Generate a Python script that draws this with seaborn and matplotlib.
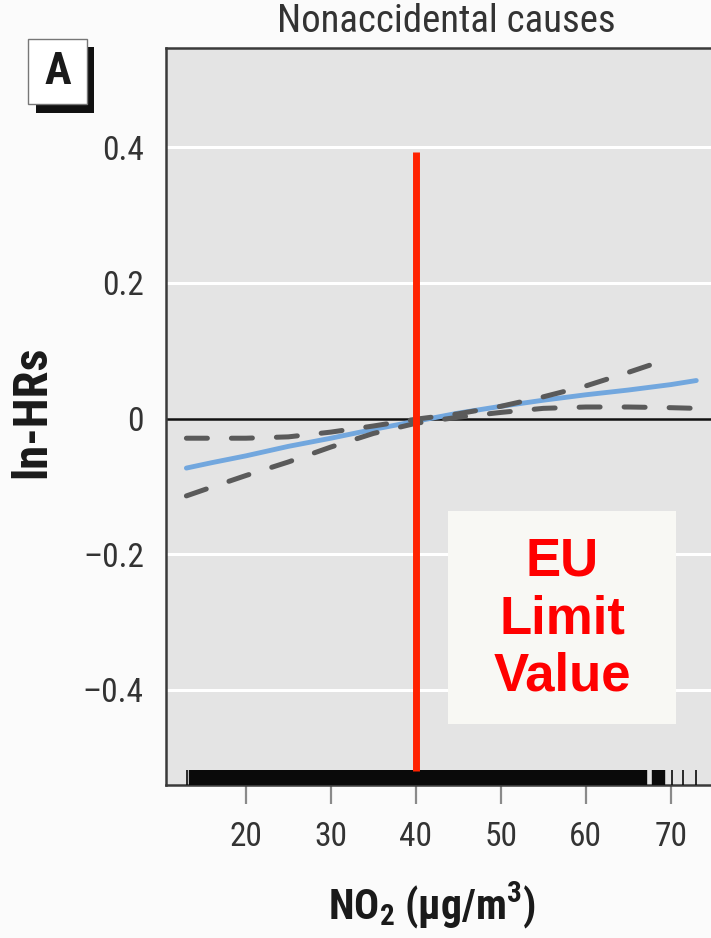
import matplotlib
matplotlib.use("Agg")
import matplotlib.pyplot as plt
import seaborn as sns
import pandas as pd
from matplotlib.patches import Rectangle
from matplotlib import font_manager as fm

# ---------------- data ----------------
no2_x = [13, 16, 20, 25, 30, 35, 40, 45, 50, 55, 60, 65, 70, 73]
ln_hr = [-0.073, -0.065, -0.055, -0.041, -0.029, -0.016, -0.004, 0.008, 0.018, 0.027, 0.035, 0.042, 0.050, 0.056]

upper_x = [13, 16, 20, 25, 30, 35, 40, 45, 50, 55, 60, 65, 70]
upper_ci = [-0.029, -0.029, -0.029, -0.027, -0.020, -0.011, -0.001, 0.007, 0.018, 0.032, 0.048, 0.068, 0.089]

lower_x = [13, 16, 20, 25, 30, 35, 40, 45, 50, 55, 60, 65, 70, 73]
lower_ci = [-0.114, -0.101, -0.084, -0.064, -0.042, -0.022, -0.007, 0.002, 0.009, 0.015, 0.017, 0.017, 0.016, 0.015]

rug_dense = [13.7, 14.0, 14.5, 15.0, 15.5, 16.0, 16.5, 17.0, 17.5, 18.0, 18.5, 19.0, 19.5,
             20.0, 20.5, 21.0, 21.5, 22.0, 22.5, 23.0, 23.5, 24.0, 24.5, 25.0, 25.5,
             26.0, 26.5, 27.0, 27.5, 28.0, 28.5, 29.0, 29.5, 30.0, 30.5, 31.0, 31.5,
             32.0, 32.5, 33.0, 33.5, 34.0, 34.5, 35.0, 35.5, 36.0, 36.5, 37.0, 37.5,
             38.0, 38.5, 39.0, 39.5, 40.0, 40.5, 41.0, 41.5, 42.0, 42.5, 43.0, 43.5,
             44.0, 44.5, 45.0, 45.5, 46.0, 46.5, 47.0, 47.5, 48.0, 48.5, 49.0, 49.5,
             50.0, 50.5, 51.0, 51.5, 52.0, 52.5, 53.0, 53.5, 54.0, 54.5, 55.0, 55.5,
             56.0, 56.5, 57.0, 57.5, 58.0, 58.5, 59.0, 59.5, 60.0, 60.5, 61.0, 61.5,
             62.0, 62.5, 63.0, 63.5, 64.0, 64.5, 65.0, 65.5, 66.0, 66.5, 66.8,
             68.2, 68.6, 69.0]
rug_sparse = [13.1, 70.1, 71.4, 73.0]

eu_limit = 40
eu_line_span = [-0.52, 0.393]

x_ticks = [20, 30, 40, 50, 60, 70]
y_ticks = [-0.4, -0.2, 0, 0.2, 0.4]
y_ticklabels = ["\u20130.4", "\u20130.2", "0", "0.2", "0.4"]

title = "Nonaccidental causes"
ylabel = "ln-HRs"
xlabel = "NO$_2$ (\u00b5g/m$^3$)"
panel = "A"
box_text = "EU\nLimit\nValue"

# ---------------- fonts: look for a condensed family ----------------
names = {f.name for f in fm.fontManager.ttflist}
narrow = None
for cand in ["Liberation Sans Narrow", "Roboto Condensed", "Open Sans Condensed",
             "DejaVu Sans Condensed", "Noto Sans Condensed", "Arial Narrow"]:
    if cand in names:
        narrow = cand
        break
stretch = "normal"
if narrow is None:
    cond = [f for f in fm.fontManager.ttflist
            if str(f.stretch) in ("condensed", "semi-condensed", "extra-condensed")]
    if cond:
        narrow = cond[0].name
        stretch = str(cond[0].stretch)
if narrow is None:
    narrow = "Liberation Sans"
FAM = [narrow, "DejaVu Sans"]

# ---------------- style ----------------
sns.set_style("white")
plt.rcParams["font.family"] = FAM
plt.rcParams["font.stretch"] = stretch
plt.rcParams["mathtext.fontset"] = "custom"
plt.rcParams["mathtext.rm"] = narrow + ":bold"
plt.rcParams["mathtext.it"] = narrow + ":bold"
plt.rcParams["mathtext.bf"] = narrow + ":bold"

W, H = 711, 938
fig = plt.figure(figsize=(W / 100, H / 100), dpi=100)
fig.patch.set_facecolor("#fbfbfb")

ax = fig.add_axes([166 / W, 1 - 785 / H, (726 - 166) / W, (785 - 48) / H])
ax.set_facecolor("#e4e4e4")
ax.set_xlim(10.6, 76.5)
ax.set_ylim(-0.540, 0.546)

for y in y_ticks:
    if y != 0:
        ax.axhline(y, color="white", lw=2.2, zorder=0.5)
ax.axhline(0, color="#111111", lw=1.8, zorder=1)

df_main = pd.DataFrame({"x": no2_x, "y": ln_hr})
df_up = pd.DataFrame({"x": upper_x, "y": upper_ci})
df_lo = pd.DataFrame({"x": lower_x, "y": lower_ci})

sns.lineplot(data=df_main, x="x", y="y", ax=ax, color="#72a7de", lw=3.5,
             solid_capstyle="round", zorder=3)
for d in (df_up, df_lo):
    sns.lineplot(data=d, x="x", y="y", ax=ax, color="#5a5a5a", lw=3.6,
                 dashes=False, zorder=4)
    ax.lines[-1].set_dashes([4.2, 4.8])
    ax.lines[-1].set_dash_capstyle("round")

sns.rugplot(x=rug_dense, ax=ax, height=0.0205, color="#0a0a0a", linewidth=4.6, zorder=5)
sns.rugplot(x=rug_sparse, ax=ax, height=0.0205, color="#0a0a0a", linewidth=1.2, zorder=5)

ax.vlines(eu_limit, eu_line_span[0], eu_line_span[1], color="#ff2200", lw=5.0, zorder=6)

# ticks
ax.set_xticks(x_ticks)
ax.set_xticklabels([str(t) for t in x_ticks])
ax.set_yticks(y_ticks)
ax.set_yticklabels(y_ticklabels)
ax.tick_params(axis="x", direction="out", length=14, width=1.6, color="#8a8a8a",
               pad=12, labelsize=24, labelcolor="#333333", bottom=True)
ax.tick_params(axis="y", length=0, pad=16, labelsize=24, labelcolor="#333333", left=True)

for s in ("left", "bottom", "top"):
    ax.spines[s].set_color("#3a3a3a")
    ax.spines[s].set_linewidth(1.8)
ax.spines["right"].set_visible(False)

ax.set_xlabel("")
ax.set_ylabel("")

# labels
fig.text(446 / W, 1 - 22 / H, title, ha="center", va="center", fontsize=28,
         color="#333333")
fig.text(32 / W, 1 - 412 / H, ylabel, ha="center", va="center", rotation=90,
         fontsize=35, fontweight="bold", color="#1a1a1a")
fig.text(432 / W, 1 - 906 / H, xlabel, ha="center", va="center",
         fontsize=30, fontweight="bold", color="#1a1a1a")

# panel letter box
fig.add_artist(Rectangle((36 / W, 1 - 113 / H), 58 / W, 66 / H,
                         transform=fig.transFigure, facecolor="#111111", edgecolor="none"))
fig.add_artist(Rectangle((28 / W, 1 - 104 / H), 59 / W, 65 / H,
                         transform=fig.transFigure, facecolor="white",
                         edgecolor="#777777", lw=1.0))
fig.text(57.5 / W, 1 - 72 / H, panel, ha="center", va="center", fontsize=32,
         fontweight="bold", color="#1a1a1a")

# EU limit box
fig.add_artist(Rectangle((448 / W, 1 - 724 / H), 228 / W, 213 / H,
                         transform=fig.transFigure, facecolor="#f8f8f4", edgecolor="none",
                         zorder=10))
fig.text(562 / W, 1 - 619 / H, box_text, ha="center", va="center", fontsize=38,
         fontweight="bold", color="#ff0000", family=["Liberation Sans", "DejaVu Sans"],
         stretch="normal", linespacing=1.2, zorder=11)

fig.savefig("out.png", dpi=100, facecolor=fig.get_facecolor())
